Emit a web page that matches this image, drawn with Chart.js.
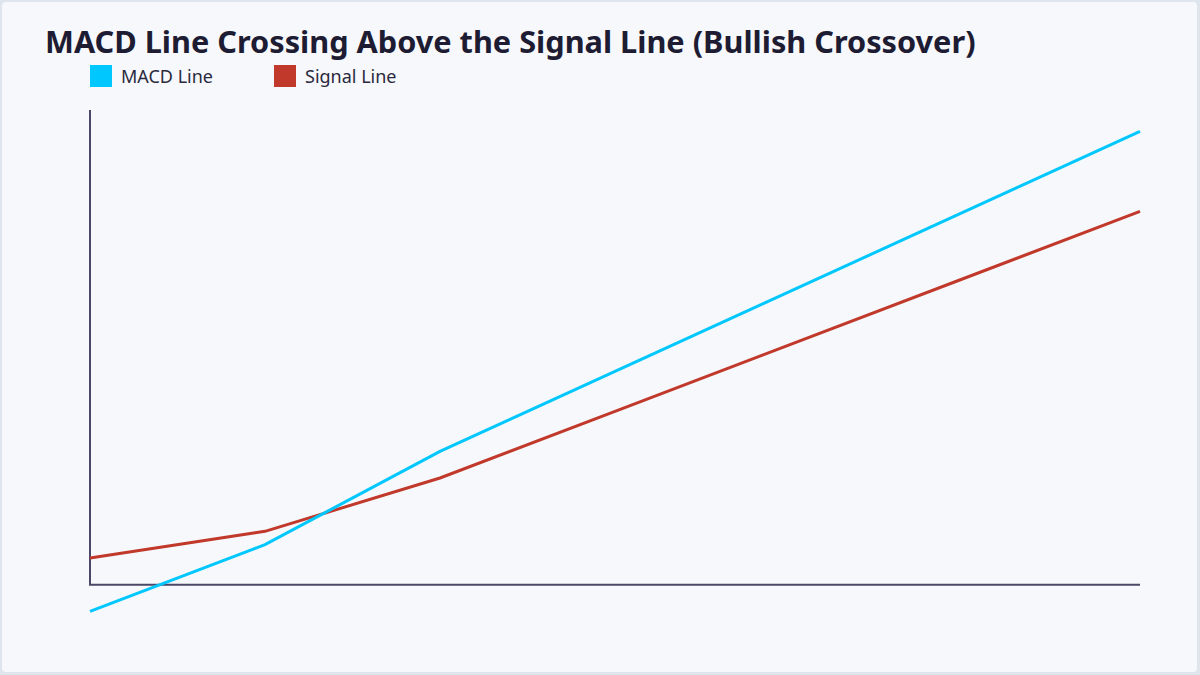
<!DOCTYPE html>
<html>
<head>
<meta charset="utf-8">
<script src="https://cdn.jsdelivr.net/npm/chart.js@4.4.1/dist/chart.umd.min.js"></script>
<style>
  html, body { margin: 0; padding: 0; width: 1200px; height: 675px; background: #dfe5ec; overflow: hidden; }
  .card { position: absolute; left: 2px; top: 2px; width: 1195px; height: 670px; background: #f7f8fc; border-radius: 4px; }
  .title { position: absolute; left: 45px; top: 20px; font: 700 30.7px "Noto Sans", sans-serif; color: #1d1c33; white-space: nowrap; }
  .legend { position: absolute; left: 90px; top: 64px; display: flex; font: 18px "Noto Sans", sans-serif; color: #2a2a3c; }
  .legend .item { display: flex; align-items: center; margin-right: 61px; }
  .legend .box { width: 22px; height: 22px; margin-right: 9px; }
  .wrap { position: absolute; left: 0; top: 0; width: 1200px; height: 675px; }
</style>
</head>
<body>
<div class="card"></div>
<div class="title">MACD Line Crossing Above the Signal Line (Bullish Crossover)</div>
<div class="legend" id="legend"></div>
<div class="wrap"><canvas id="chart"></canvas></div>
<script>
// data
const periods = ['1', '2', '3', '4', '5', '6', '7'];
const macdValues = [-1, 1.5, 5, 8, 11, 14, 17];
const signalValues = [1, 2, 4, 6.5, 9, 11.5, 14];

const MACD_COLOR = '#00c8ff';
const SIGNAL_COLOR = '#c0392b';
const AXIS_COLOR = '#4b4767';

document.getElementById('legend').innerHTML = [
  { label: 'MACD Line', color: MACD_COLOR },
  { label: 'Signal Line', color: SIGNAL_COLOR },
].map(l => `<div class="item"><div class="box" style="background:${l.color}"></div>${l.label}</div>`).join('');

// axis lines meet at zero, like the original
const zeroAxes = {
  id: 'zeroAxes',
  beforeDatasetsDraw(chart) {
    const { ctx, chartArea, scales } = chart;
    const y0 = scales.y.getPixelForValue(0);
    ctx.save();
    ctx.strokeStyle = AXIS_COLOR;
    ctx.lineWidth = 2;
    ctx.beginPath();
    ctx.moveTo(chartArea.left, chartArea.top);
    ctx.lineTo(chartArea.left, y0);
    ctx.lineTo(chartArea.right, y0);
    ctx.stroke();
    ctx.restore();
  }
};

new Chart(document.getElementById('chart'), {
  type: 'line',
  data: {
    labels: periods,
    datasets: [
      { label: 'MACD Line', data: macdValues, borderColor: MACD_COLOR, backgroundColor: MACD_COLOR, borderWidth: 3, pointRadius: 0, tension: 0 },
      { label: 'Signal Line', data: signalValues, borderColor: SIGNAL_COLOR, backgroundColor: SIGNAL_COLOR, borderWidth: 3, pointRadius: 0, tension: 0 },
    ]
  },
  options: {
    responsive: true,
    maintainAspectRatio: false,
    animation: false,
    layout: { padding: { top: 110, bottom: 37, left: 90, right: 60 } },
    plugins: { legend: { display: false }, tooltip: { enabled: false } },
    scales: {
      x: { display: false },
      y: { display: false, min: -2, max: 17.8 }
    }
  },
  plugins: [zeroAxes]
});
</script>
</body>
</html>
